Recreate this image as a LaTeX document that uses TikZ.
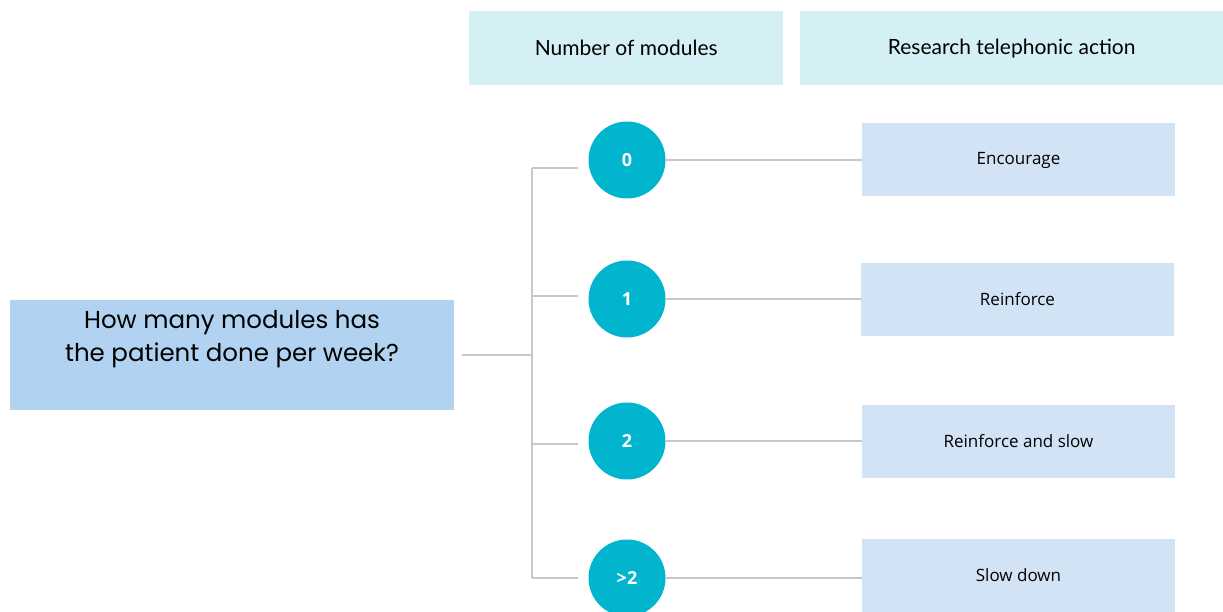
\documentclass[tikz,border=0pt]{standalone}
\usepackage{fontspec}
\setmainfont{Poppins}
\newfontfamily\hdfont{Lato}
\newfontfamily\bxfont{Open Sans}
\definecolor{hdcol}{HTML}{D5F0F5}
\definecolor{maincol}{HTML}{B1D3F1}
\definecolor{actcol}{HTML}{D2E3F6}
\definecolor{circcol}{HTML}{00B5CD}
\definecolor{lncol}{HTML}{C8C8C8}
\tikzset{
  hdbox/.style={fill=hdcol, draw=none, minimum height=74pt, font=\hdfont\fontsize{21}{24}\selectfont, anchor=north west},
  actbox/.style={fill=actcol, draw=none, minimum width=313pt, minimum height=73pt, font=\bxfont\fontsize{17}{20}\selectfont},
  numcirc/.style={circle, fill=circcol, minimum size=77pt, inner sep=0pt, text=white, font=\bxfont\bfseries\fontsize{18}{20}\selectfont},
  conn/.style={draw=lncol, line width=1.6pt},
}
\begin{document}
\begin{tikzpicture}[x=1pt,y=-1pt]
\useasboundingbox (0,0) rectangle (1223,612);
\node[hdbox, minimum width=314pt] (h1) at (469,11) {Number of modules};
\node[hdbox, minimum width=423pt] (h2) at (800,11) {Research telephonic action};
\node[fill=maincol, minimum width=444pt, minimum height=110pt] (q) at (232,355) {};
\node[align=center, font=\fontsize{24.5}{33}\selectfont] (qt) at (232,339) {How many modules has\\ the patient done per week?};
\coordinate (j) at (532,355);
\coordinate (top) at (532,168);
\coordinate (bot) at (532,578);
\coordinate (s0) at (578,168);
\coordinate (s1) at (578,296);
\coordinate (s2) at (578,444);
\coordinate (s3) at (578,578);
\coordinate (l0) at (462,355);
\node[numcirc] (c0) at (627,160) {0};
\node[numcirc] (c1) at (627,299) {1};
\node[numcirc] (c2) at (627,441) {2};
\node[numcirc] (c3) at (627,578) {>2};
\node[actbox] (a0) at (1018.5,160) {Encourage};
\node[actbox] (a1) at (1017.5,299.5) {Reinforce};
\node[actbox] (a2) at (1018.5,441.5) {Reinforce and slow};
\node[actbox] (a3) at (1018.5,575) {Slow down};
\draw[conn] (l0) -- (j);
\draw[conn] (top) -- (bot);
\draw[conn] (top) -- (s0);
\draw[conn] (j |- s1) -- (s1);
\draw[conn] (j |- s2) -- (s2);
\draw[conn] (bot) -- (s3);
\draw[conn] (c0.east) -- (a0.west |- c0.east);
\draw[conn] (c1.east) -- (a1.west |- c1.east);
\draw[conn] (c2.east) -- (a2.west |- c2.east);
\draw[conn] (c3.east) -- (a3.west |- c3.east);
\end{tikzpicture}
\end{document}
